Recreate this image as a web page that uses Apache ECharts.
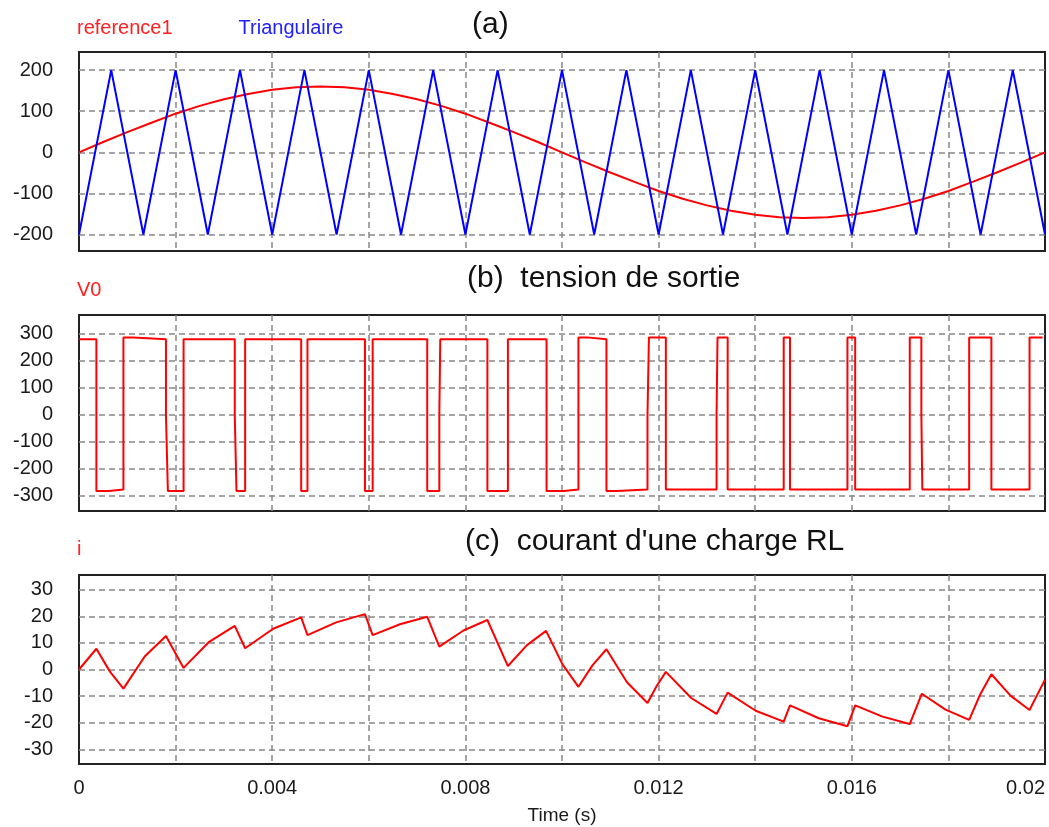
<!DOCTYPE html>
<html><head><meta charset="utf-8">
<script src="https://cdn.jsdelivr.net/npm/echarts@6/dist/echarts.min.js"></script>
<style>html,body{margin:0;padding:0;background:#fff}#c{width:1049px;height:827px}</style>
</head><body><div id="c"></div>
<script>
// ---- data (time in seconds) ----
const xTickLabels = ['0', '0.004', '0.008', '0.012', '0.016', '0.02'];

// (a) reference sine
const refTime = [0,0.0005,0.001,0.0015,0.002,0.0025,0.003,0.0035,0.004,0.0045,0.005,0.0055,0.006,0.0065,0.007,0.0075,0.008,0.0085,0.009,0.0095,0.01,0.0105,0.011,0.0115,0.012,0.0125,0.013,0.0135,0.014,0.0145,0.015,0.0155,0.016,0.0165,0.017,0.0175,0.018,0.0185,0.019,0.0195,0.02];
const refValue = [0,25,49,72,94,113,129,142,152,158,160,158,152,142,129,113,94,72,49,25,0,-25,-49,-72,-94,-113,-129,-142,-152,-158,-160,-158,-152,-142,-129,-113,-94,-72,-49,-25,0];

// (a) triangular carrier vertices
const triTime = [0,0.000667,0.001333,0.002,0.002667,0.003333,0.004,0.004667,0.005333,0.006,0.006667,0.007333,0.008,0.008667,0.009333,0.01,0.010667,0.011333,0.012,0.012667,0.013333,0.014,0.014667,0.015333,0.016,0.016667,0.017333,0.018,0.018667,0.019333,0.02];
const triValue = [-200,200,-200,200,-200,200,-200,200,-200,200,-200,200,-200,200,-200,200,-200,200,-200,200,-200,200,-200,200,-200,200,-200,200,-200,200,-200];

// (b) output voltage: switching instants and level after each switch
const v0Time = [0,0.00036,0.00062,0.00092,0.00112,0.0018,0.00184,0.002165,0.003225,0.00326,0.00344,0.0046,0.00473,0.00592,0.00608,0.00721,0.00746,0.00748,0.008455,0.00888,0.00968,0.01004,0.01034,0.01052,0.01092,0.01113,0.01177,0.0118,0.01215,0.0132,0.01322,0.01343,0.01459,0.01472,0.01591,0.01607,0.0172,0.01744,0.01746,0.01843,0.01889,0.01968,0.01995];
const v0Level = [279,-284,-278,286,279,0,-284,279,0,-284,279,-284,279,-284,279,-284,0,279,-284,279,-284,-278,286,279,-284,-278,0,286,-278,0,286,-278,286,-278,286,-278,286,0,-278,286,-278,286,286];

// (c) RL load current
const iTime = [0,0.00036,0.00064,0.00092,0.00136,0.0018,0.002165,0.002695,0.003225,0.00344,0.00402,0.0046,0.00473,0.005325,0.00592,0.00608,0.006645,0.00721,0.00746,0.00796,0.008455,0.00888,0.009275,0.00967,0.010005,0.01034,0.01063,0.01092,0.011345,0.01177,0.01196,0.01215,0.012675,0.0132,0.01343,0.01401,0.01459,0.01472,0.015315,0.01591,0.01607,0.016635,0.0172,0.01745,0.01794,0.01843,0.01866,0.01889,0.019285,0.01968,0.02];
const iValue = [0,7.8,-0.8,-7.2,4.9,12.6,0.6,10.4,16.4,8.0,15.3,19.6,12.9,17.7,20.8,12.9,17.0,19.8,8.6,14.65,18.6,1.3,9.15,14.5,2.1,-6.5,1.55,7.6,-4.8,-12.6,-6.2,-0.9,-10.7,-16.7,-8.7,-15.5,-19.6,-13.5,-18.3,-21.3,-13.5,-17.7,-20.5,-9.1,-15.05,-18.9,-9.3,-1.8,-9.8,-15.2,-3.8];

const yRanges = [[-240, 244], [-358, 369], [-35.5, 35.5]];

// ---- build ----
const pairs = (xs, ys) => xs.map((x, k) => [x, ys[k]]);
const FONT = 'Liberation Sans';
const gridTops = [52, 315, 575];
const gridHeights = [199, 196, 189];
const grids = gridTops.map((t, k) => ({
  left: 79, right: 4, top: t, height: gridHeights[k],
  show: true, borderColor: '#222222', borderWidth: 2, backgroundColor: 'transparent'
}));
const splitStyle = { show: true, showMinLine: false, showMaxLine: false,
  lineStyle: { color: '#888888', width: 1.5, type: [6, 4] } };

const xAxes = [0, 1, 2].map(k => ({
  type: 'value', gridIndex: k, min: 0, max: 0.02, interval: 0.002,
  axisLine: { show: false, onZero: false }, axisTick: { show: false },
  splitLine: splitStyle,
  axisLabel: {
    show: k === 2, margin: 14, fontFamily: FONT, fontSize: 20, color: '#1a1a1a',
    alignMaxLabel: 'right',
    formatter: v => { const s = String(+v.toFixed(4)); return xTickLabels.includes(s) ? s : ''; }
  },
  name: k === 2 ? 'Time (s)' : '', nameLocation: 'middle', nameGap: 42,
  nameTextStyle: { fontFamily: FONT, fontSize: 19, color: '#1a1a1a' }
}));
const yAxes = [0, 1, 2].map(k => ({
  type: 'value', gridIndex: k, min: yRanges[k][0], max: yRanges[k][1], splitNumber: 5,
  axisLine: { show: false, onZero: false }, axisTick: { show: false },
  splitLine: splitStyle,
  axisLabel: { margin: 26, fontFamily: FONT, fontSize: 20, color: '#1a1a1a',
    showMinLabel: false, showMaxLabel: false }
}));

const lineBase = { type: 'line', showSymbol: false, symbol: 'none', animation: false };
const series = [
  Object.assign({}, lineBase, { name: 'reference1', xAxisIndex: 0, yAxisIndex: 0,
    data: pairs(refTime, refValue), lineStyle: { color: '#ff0000', width: 2 }, itemStyle: { color: '#ff0000' } }),
  Object.assign({}, lineBase, { name: 'Triangulaire', xAxisIndex: 0, yAxisIndex: 0,
    data: pairs(triTime, triValue), lineStyle: { color: '#0000ff', width: 2 }, itemStyle: { color: '#0000ff' } }),
  Object.assign({}, lineBase, { name: 'V0', xAxisIndex: 1, yAxisIndex: 1, step: 'end',
    data: pairs(v0Time, v0Level), lineStyle: { color: '#ff0000', width: 2 }, itemStyle: { color: '#ff0000' } }),
  Object.assign({}, lineBase, { name: 'i', xAxisIndex: 2, yAxisIndex: 2,
    data: pairs(iTime, iValue), lineStyle: { color: '#ff0000', width: 2 }, itemStyle: { color: '#ff0000' } })
];

const legendBase = { orient: 'horizontal', left: 72, itemWidth: 0, itemHeight: 0, icon: 'rect',
  selectedMode: false, padding: 0,
  textStyle: { fontFamily: FONT, fontSize: 20 } };
const legends = [
  Object.assign({}, legendBase, { top: 18, itemGap: 61, data: [
    { name: 'reference1', textStyle: { color: '#ff2020' } },
    { name: 'Triangulaire', textStyle: { color: '#2020ff' } }] }),
  Object.assign({}, legendBase, { top: 280, data: [{ name: 'V0', textStyle: { color: '#ff2020' } }] }),
  Object.assign({}, legendBase, { top: 539, data: [{ name: 'i', textStyle: { color: '#ff2020' } }] })
];

const titleStyle = { fontFamily: 'Liberation Sans', fontSize: 30, fontWeight: 'normal', color: '#111' };
const titles = [
  { text: '(a)', left: 472, top: 10, padding: 0, textStyle: titleStyle },
  { text: '(b)  tension de sortie', left: 467, top: 264, padding: 0, textStyle: titleStyle },
  { text: "(c)  courant d'une charge RL", left: 465, top: 527, padding: 0, textStyle: titleStyle }
];

const chart = echarts.init(document.getElementById('c'), null, { renderer: 'canvas' });
chart.setOption({
  animation: false,
  backgroundColor: '#ffffff',
  title: titles,
  legend: legends,
  grid: grids,
  xAxis: xAxes,
  yAxis: yAxes,
  series: series
});
</script></body></html>
